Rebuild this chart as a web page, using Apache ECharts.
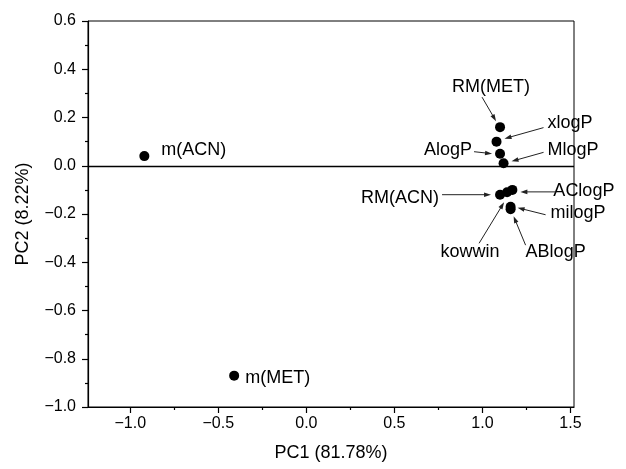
<!DOCTYPE html>
<html>
<head>
<meta charset="utf-8">
<script src="https://cdn.jsdelivr.net/npm/echarts@6/dist/echarts.min.js"></script>
<style>
  html, body { margin: 0; padding: 0; background: #fff; }
  #main { width: 626px; height: 469px; }
</style>
</head>
<body>
<div id="main"></div>
<script>
// loadings
var names = ['m(ACN)', 'm(MET)', 'RM(MET)', 'xlogP', 'AlogP', 'MlogP', 'RM(ACN)', 'kowwin', 'AClogP', 'milogP', 'ABlogP'];
var pc1 = [-0.92, -0.41, 1.10, 1.08, 1.10, 1.12, 1.10, 1.14, 1.17, 1.16, 1.16];
var pc2 = [0.04, -0.87, 0.16, 0.10, 0.05, 0.01, -0.12, -0.11, -0.10, -0.17, -0.18];

var xTicks = [-1.0, -0.5, 0.0, 0.5, 1.0, 1.5];
var xMinor = [-0.75, -0.25, 0.25, 0.75, 1.25];

// label placement (pixel offsets from the point): text [dx, dy, align], arrow [from dx, dy, to dx, dy]
var notes = [
  { name: 'm(ACN)',  text: [17, -6, 'left'] },
  { name: 'm(MET)',  text: [11, 2, 'left'] },
  { name: 'RM(MET)', text: [-9, -40, 'center'], arrow: [-18, -30, -4, -6] },
  { name: 'xlogP',   text: [51, -19, 'left'],   arrow: [47, -14, 8, -3] },
  { name: 'AlogP',   text: [-28, -4, 'right'],  arrow: [-26, -2, -8, 0] },
  { name: 'MlogP',   text: [44, -13, 'left'],   arrow: [40, -11, 8, -2] },
  { name: 'RM(ACN)', text: [-61, 3, 'right'],   arrow: [-58, 0, -9, 0] },
  { name: 'kowwin',  text: [-37, 60, 'center'], arrow: [-28, 51, -3, 10] },
  { name: 'AClogP',  text: [41, 1, 'left'],     arrow: [44, 2, 8, 2] },
  { name: 'milogP',  text: [40, 6, 'left'],     arrow: [35, 8, 7, 1] },
  { name: 'ABlogP',  text: [15, 43, 'left'],    arrow: [15, 36, 3, 7] }
];

var ink = '#000';
var fontName = '"Liberation Sans", Arial, sans-serif';

function fmt(v) {
  return v.toFixed(1).replace('-', '\u2212');
}

var mycharts = echarts.init(document.getElementById('main'));

var option = {
  backgroundColor: '#fff',
  animation: false,
  textStyle: { fontFamily: fontName },
  grid: {
    left: 88,
    right: 52,
    top: 21,
    bottom: 62,
    show: true,
    borderColor: ink,
    borderWidth: 1
  },
  xAxis: [{
    type: 'value',
    min: -1.24,
    max: 1.52,
    position: 'bottom',
    name: 'PC1 (81.78%)',
    nameLocation: 'middle',
    nameGap: 37,
    nameTextStyle: { color: ink, fontSize: 18, fontFamily: fontName },
    axisLine: { onZero: false, lineStyle: { color: ink, width: 1.2 } },
    axisTick: { customValues: xTicks, length: 6, lineStyle: { color: ink, width: 1.2 } },
    axisLabel: { customValues: xTicks, formatter: fmt, color: ink, fontSize: 16, margin: 9 },
    splitLine: { show: false }
  }, {
    type: 'value',
    min: -1.24,
    max: 1.52,
    position: 'bottom',
    axisLine: { show: false, onZero: false },
    axisTick: { customValues: xMinor, length: 3, lineStyle: { color: ink, width: 1.2 } },
    axisLabel: { show: false },
    splitLine: { show: false }
  }],
  yAxis: {
    type: 'value',
    min: -1.0,
    max: 0.6,
    interval: 0.2,
    name: 'PC2 (8.22%)',
    nameLocation: 'middle',
    nameGap: 56,
    nameTextStyle: { color: ink, fontSize: 18, fontFamily: fontName },
    axisLine: { show: true, onZero: false, lineStyle: { color: ink, width: 1.2 } },
    axisTick: { show: true, length: 6, lineStyle: { color: ink, width: 1.2 } },
    minorTick: { show: true, splitNumber: 2, length: 3, lineStyle: { color: ink, width: 1.2 } },
    axisLabel: { formatter: fmt, color: ink, fontSize: 16, margin: 12 },
    splitLine: { show: false },
    minorSplitLine: { show: false }
  },
  series: [{
    type: 'scatter',
    xAxisIndex: 0,
    data: pc1.map(function (x, i) { return [x, pc2[i]]; }),
    symbolSize: 10,
    itemStyle: { color: '#000', opacity: 1 },
    z: 3,
    markLine: {
      silent: true,
      symbol: 'none',
      label: { show: false },
      lineStyle: { color: ink, width: 1.3, type: 'solid' },
      data: [{ yAxis: 0 }]
    }
  }]
};
mycharts.setOption(option);

// annotations with arrows, placed from the point's pixel position
var graphics = [];
notes.forEach(function (n) {
  var i = names.indexOf(n.name);
  var p = mycharts.convertToPixel({ xAxisIndex: 0, yAxisIndex: 0 }, [pc1[i], pc2[i]]);
  graphics.push({
    type: 'text',
    z: 10,
    style: {
      text: n.name,
      x: p[0] + n.text[0],
      y: p[1] + n.text[1],
      align: n.text[2],
      verticalAlign: 'middle',
      font: '18px ' + fontName,
      fill: ink
    }
  });
  if (n.arrow) {
    var x1 = p[0] + n.arrow[0], y1 = p[1] + n.arrow[1];
    var x2 = p[0] + n.arrow[2], y2 = p[1] + n.arrow[3];
    var dx = x2 - x1, dy = y2 - y1;
    var len = Math.sqrt(dx * dx + dy * dy);
    var ux = dx / len, uy = dy / len;
    var head = 7, half = 2.3;
    graphics.push({
      type: 'line',
      z: 10,
      shape: { x1: x1, y1: y1, x2: x2 - ux * (head - 1), y2: y2 - uy * (head - 1) },
      style: { stroke: '#222', lineWidth: 1 }
    });
    graphics.push({
      type: 'polygon',
      z: 10,
      shape: {
        points: [
          [x2, y2],
          [x2 - ux * head - uy * half, y2 - uy * head + ux * half],
          [x2 - ux * head + uy * half, y2 - uy * head - ux * half]
        ]
      },
      style: { fill: '#222' }
    });
  }
});
mycharts.setOption({ graphic: graphics });
</script>
</body>
</html>
